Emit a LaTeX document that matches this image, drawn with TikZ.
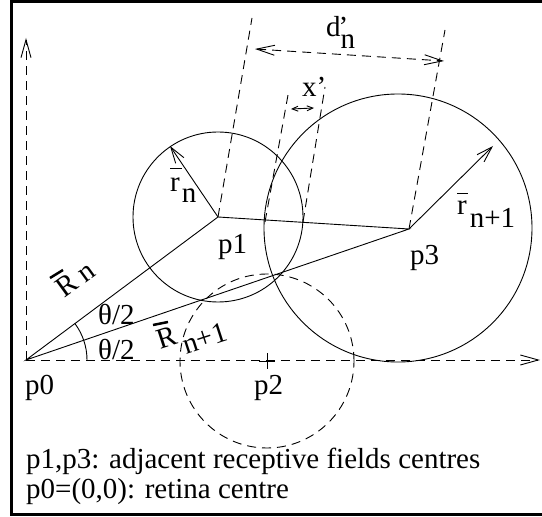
\documentclass[tikz,border=0pt]{standalone}
\usepackage{fontspec}
\setmainfont{Liberation Serif}
\usetikzlibrary{arrows.meta}
\begin{document}
\begin{tikzpicture}[x=1pt,y=1pt,
  geo/.style={line width=0.9pt},
  dsh/.style={line width=0.9pt, dash pattern=on 9pt off 6pt},
  barb/.style={-{Straight Barb[length=18pt,width=10pt]}},
  barbboth/.style={{Straight Barb[length=18pt,width=10pt]}-{Straight Barb[length=18pt,width=10pt]}},
  smallboth/.style={{Straight Barb[length=6pt,width=5pt]}-{Straight Barb[length=6pt,width=5pt]}},
  lbl/.style={anchor=base west, inner sep=0pt, font=\fontsize{29}{34}\selectfont},
  bar/.style={line width=0.9pt},
  boldbar/.style={line width=2.5pt},
  ]
\useasboundingbox (0,0) rectangle (542,517);
\draw[line width=3pt] (11.3,2.5) rectangle (550,515.5);

% points
\coordinate (p0) at (26,157);
\coordinate (p1) at (218,300);
\coordinate (p3) at (409,288);
\coordinate (c3) at (398,289);
\coordinate (p2) at (267,156);
\coordinate (ytip) at (26,479);
\coordinate (xtip) at (540,157);
\coordinate (rntip) at (170,371);
\coordinate (rmtip) at (493,371);
\coordinate (q1) at (252,499);
\coordinate (a0) at (265,295);
\coordinate (a1) at (288,422);
\coordinate (b0) at (303,295);
\coordinate (b1) at (325,430);
\coordinate (q3) at (445,487);
\coordinate (d0) at (255,468);
\coordinate (d1) at (444,456);
\coordinate (x0) at (291,408);
\coordinate (x1) at (314,409);

% axes
\draw[dsh, barb] (p0) -- (ytip);
\draw[dsh, barb] (p0) -- (xtip);

% circles
\draw[geo] (p1) circle (85);
\draw[geo] (c3) circle (134);
\draw[dsh] (p2) circle (87);
\draw[geo] (p2) ++(-8,0) -- ++(16,0);
\draw[geo] (p2) ++(0,-8) -- ++(0,16);

% triangle
\draw[geo] (p0) -- (p1) -- (p3) -- cycle;
\draw[geo] (p0) ++(0:61) arc (0:36.7:61);

% radii
\draw[geo, -{Straight Barb[length=16pt,width=10pt]}] (p1) -- (rntip);
\draw[geo, -{Straight Barb[length=16pt,width=10pt]}] (p3) -- (rmtip);

% projections
\draw[dsh] (p1) -- (q1);
\draw[dsh] (a0) -- (a1);
\draw[dsh] (b0) -- (b1);
\draw[dsh] (p3) -- (q3);
\draw[dsh, barbboth] (d0) -- (d1);
\draw[geo, smallboth] (x0) -- (x1);

% labels
\node[lbl] (lp0) at (25,122) {p0};
\node[lbl] (lp2) at (254,122) {p2};
\node[lbl] (lp1) at (218,263) {p1};
\node[lbl] (lp3) at (410,252) {p3};
\node[lbl] (lrn) at (170,325) {r\kern2pt\raisebox{-11pt}{n}};
\draw[bar] (170,349) -- (182,349);
\node[lbl] (lrm) at (457,302) {r\kern3pt\raisebox{-13pt}{n+1}};
\draw[bar] (457,324) -- (468,324);
\node[lbl] (ldn) at (326,480) {d\rlap{\kern-2pt'}\raisebox{-12pt}{n}};
\node[lbl] (lx) at (302,420) {x'};
\node[lbl] (lth1) at (98,192) {θ/2};
\node[lbl] (lth2) at (98,157) {θ/2};
\node[lbl, rotate=36] (lRn) at (64,218) {R n};
\draw[boldbar] (50,239) -- (63,247);
\node[lbl, rotate=18] (lRm) at (160,167) {R\kern4pt\raisebox{-12pt}{n+1}};
\draw[boldbar] (153,192) -- (168,195);
\node[lbl] (lt1) at (26,48) {p1,p3: adjacent receptive fields centres};
\node[lbl] (lt2) at (26,18) {p0=(0,0): retina centre};
\end{tikzpicture}
\end{document}
